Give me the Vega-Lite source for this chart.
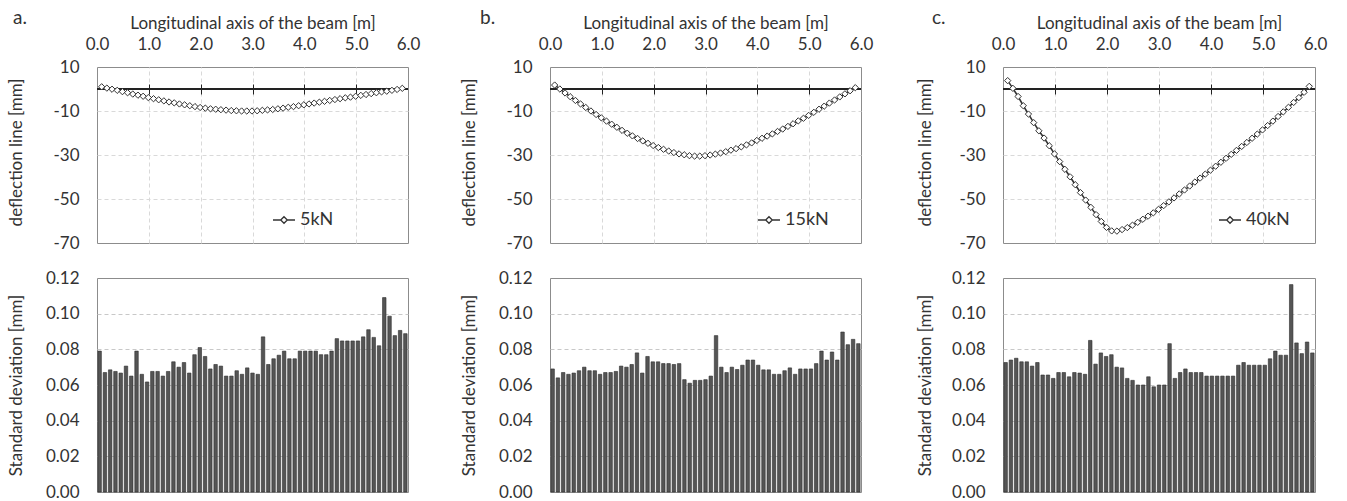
{
  "$schema": "https://vega.github.io/schema/vega-lite/v6.json",
  "autosize": {"type": "pad"},
  "padding": {"left": 6, "top": 8, "right": 0, "bottom": 8},
  "config": {
    "font": "Lato",
    "view": {"stroke": "#8c8c8c", "strokeWidth": 1},
    "axis": {"labelFontSize": 17, "titleFontSize": 17, "titleFontWeight": "normal", "labelColor": "#333", "titleColor": "#333", "labelFont": "Lato", "titleFont": "Lato", "labelFlush": false, "labelOverlap": false},
    "title": {"fontSize": 19, "fontWeight": "normal", "color": "#333", "font": "Lato"},
    "legend": {"labelFont": "Lato"}
  },
  "datasets": {
    "d5": [
      {"x":0.09,"v":1.0,"load":"5kN"},{"x":0.19,"v":0.4,"load":"5kN"},{"x":0.29,"v":-0.1,"load":"5kN"},{"x":0.39,"v":-0.6,"load":"5kN"},{"x":0.49,"v":-1.2,"load":"5kN"},{"x":0.59,"v":-1.7,"load":"5kN"},{"x":0.69,"v":-2.3,"load":"5kN"},{"x":0.79,"v":-2.8,"load":"5kN"},{"x":0.89,"v":-3.3,"load":"5kN"},{"x":0.99,"v":-3.9,"load":"5kN"},
      {"x":1.09,"v":-4.4,"load":"5kN"},{"x":1.19,"v":-4.9,"load":"5kN"},{"x":1.29,"v":-5.4,"load":"5kN"},{"x":1.39,"v":-5.9,"load":"5kN"},{"x":1.49,"v":-6.3,"load":"5kN"},{"x":1.59,"v":-6.8,"load":"5kN"},{"x":1.69,"v":-7.2,"load":"5kN"},{"x":1.79,"v":-7.6,"load":"5kN"},{"x":1.89,"v":-8.0,"load":"5kN"},{"x":1.99,"v":-8.4,"load":"5kN"},
      {"x":2.09,"v":-8.7,"load":"5kN"},{"x":2.19,"v":-9.0,"load":"5kN"},{"x":2.29,"v":-9.2,"load":"5kN"},{"x":2.39,"v":-9.4,"load":"5kN"},{"x":2.49,"v":-9.6,"load":"5kN"},{"x":2.59,"v":-9.8,"load":"5kN"},{"x":2.69,"v":-9.9,"load":"5kN"},{"x":2.79,"v":-10.0,"load":"5kN"},{"x":2.89,"v":-10.0,"load":"5kN"},{"x":2.99,"v":-10.0,"load":"5kN"},
      {"x":3.09,"v":-9.9,"load":"5kN"},{"x":3.19,"v":-9.7,"load":"5kN"},{"x":3.29,"v":-9.5,"load":"5kN"},{"x":3.39,"v":-9.3,"load":"5kN"},{"x":3.49,"v":-9.0,"load":"5kN"},{"x":3.59,"v":-8.7,"load":"5kN"},{"x":3.69,"v":-8.3,"load":"5kN"},{"x":3.79,"v":-8.0,"load":"5kN"},{"x":3.89,"v":-7.6,"load":"5kN"},{"x":3.99,"v":-7.2,"load":"5kN"},
      {"x":4.09,"v":-6.8,"load":"5kN"},{"x":4.19,"v":-6.4,"load":"5kN"},{"x":4.29,"v":-6.0,"load":"5kN"},{"x":4.39,"v":-5.6,"load":"5kN"},{"x":4.49,"v":-5.2,"load":"5kN"},{"x":4.59,"v":-4.8,"load":"5kN"},{"x":4.69,"v":-4.4,"load":"5kN"},{"x":4.79,"v":-4.0,"load":"5kN"},{"x":4.89,"v":-3.7,"load":"5kN"},{"x":4.99,"v":-3.3,"load":"5kN"},
      {"x":5.09,"v":-2.9,"load":"5kN"},{"x":5.19,"v":-2.5,"load":"5kN"},{"x":5.29,"v":-2.1,"load":"5kN"},{"x":5.39,"v":-1.7,"load":"5kN"},{"x":5.49,"v":-1.3,"load":"5kN"},{"x":5.59,"v":-1.0,"load":"5kN"},{"x":5.69,"v":-0.6,"load":"5kN"},{"x":5.79,"v":-0.2,"load":"5kN"},{"x":5.89,"v":0.3,"load":"5kN"}
    ],
    "d15": [
      {"x":0.09,"v":1.8,"load":"15kN"},{"x":0.19,"v":0.0,"load":"15kN"},{"x":0.29,"v":-1.8,"load":"15kN"},{"x":0.39,"v":-3.5,"load":"15kN"},{"x":0.49,"v":-5.2,"load":"15kN"},{"x":0.59,"v":-6.8,"load":"15kN"},{"x":0.69,"v":-8.4,"load":"15kN"},{"x":0.79,"v":-10.0,"load":"15kN"},{"x":0.89,"v":-11.6,"load":"15kN"},{"x":0.99,"v":-13.1,"load":"15kN"},
      {"x":1.09,"v":-14.6,"load":"15kN"},{"x":1.19,"v":-16.0,"load":"15kN"},{"x":1.29,"v":-17.4,"load":"15kN"},{"x":1.39,"v":-18.8,"load":"15kN"},{"x":1.49,"v":-20.1,"load":"15kN"},{"x":1.59,"v":-21.3,"load":"15kN"},{"x":1.69,"v":-22.5,"load":"15kN"},{"x":1.79,"v":-23.6,"load":"15kN"},{"x":1.89,"v":-24.7,"load":"15kN"},{"x":1.99,"v":-25.7,"load":"15kN"},
      {"x":2.09,"v":-26.6,"load":"15kN"},{"x":2.19,"v":-27.4,"load":"15kN"},{"x":2.29,"v":-28.2,"load":"15kN"},{"x":2.39,"v":-28.9,"load":"15kN"},{"x":2.49,"v":-29.5,"load":"15kN"},{"x":2.59,"v":-29.9,"load":"15kN"},{"x":2.69,"v":-30.3,"load":"15kN"},{"x":2.79,"v":-30.5,"load":"15kN"},{"x":2.89,"v":-30.5,"load":"15kN"},{"x":2.99,"v":-30.3,"load":"15kN"},
      {"x":3.09,"v":-30.0,"load":"15kN"},{"x":3.19,"v":-29.6,"load":"15kN"},{"x":3.29,"v":-29.1,"load":"15kN"},{"x":3.39,"v":-28.5,"load":"15kN"},{"x":3.49,"v":-27.8,"load":"15kN"},{"x":3.59,"v":-27.1,"load":"15kN"},{"x":3.69,"v":-26.3,"load":"15kN"},{"x":3.79,"v":-25.4,"load":"15kN"},{"x":3.89,"v":-24.5,"load":"15kN"},{"x":3.99,"v":-23.4,"load":"15kN"},
      {"x":4.09,"v":-22.4,"load":"15kN"},{"x":4.19,"v":-21.4,"load":"15kN"},{"x":4.29,"v":-20.4,"load":"15kN"},{"x":4.39,"v":-19.3,"load":"15kN"},{"x":4.49,"v":-18.2,"load":"15kN"},{"x":4.59,"v":-17.0,"load":"15kN"},{"x":4.69,"v":-15.8,"load":"15kN"},{"x":4.79,"v":-14.5,"load":"15kN"},{"x":4.89,"v":-13.3,"load":"15kN"},{"x":4.99,"v":-12.0,"load":"15kN"},
      {"x":5.09,"v":-10.6,"load":"15kN"},{"x":5.19,"v":-9.2,"load":"15kN"},{"x":5.29,"v":-7.8,"load":"15kN"},{"x":5.39,"v":-6.4,"load":"15kN"},{"x":5.49,"v":-5.0,"load":"15kN"},{"x":5.59,"v":-3.6,"load":"15kN"},{"x":5.69,"v":-2.2,"load":"15kN"},{"x":5.79,"v":-0.8,"load":"15kN"},{"x":5.89,"v":0.6,"load":"15kN"}
    ],
    "d40": [
      {"x":0.09,"v":3.8,"load":"40kN"},{"x":0.19,"v":0.3,"load":"40kN"},{"x":0.29,"v":-3.4,"load":"40kN"},{"x":0.39,"v":-7.6,"load":"40kN"},{"x":0.49,"v":-11.4,"load":"40kN"},{"x":0.59,"v":-15.3,"load":"40kN"},{"x":0.69,"v":-19.0,"load":"40kN"},{"x":0.79,"v":-22.3,"load":"40kN"},{"x":0.89,"v":-25.8,"load":"40kN"},{"x":0.99,"v":-29.5,"load":"40kN"},
      {"x":1.09,"v":-33.0,"load":"40kN"},{"x":1.19,"v":-36.5,"load":"40kN"},{"x":1.29,"v":-39.9,"load":"40kN"},{"x":1.39,"v":-43.5,"load":"40kN"},{"x":1.49,"v":-47.1,"load":"40kN"},{"x":1.59,"v":-50.5,"load":"40kN"},{"x":1.69,"v":-53.8,"load":"40kN"},{"x":1.79,"v":-57.1,"load":"40kN"},{"x":1.89,"v":-60.2,"load":"40kN"},{"x":1.99,"v":-62.9,"load":"40kN"},
      {"x":2.09,"v":-64.5,"load":"40kN"},{"x":2.19,"v":-64.6,"load":"40kN"},{"x":2.29,"v":-63.9,"load":"40kN"},{"x":2.39,"v":-63.0,"load":"40kN"},{"x":2.49,"v":-61.9,"load":"40kN"},{"x":2.59,"v":-60.6,"load":"40kN"},{"x":2.69,"v":-59.2,"load":"40kN"},{"x":2.79,"v":-57.8,"load":"40kN"},{"x":2.89,"v":-56.3,"load":"40kN"},{"x":2.99,"v":-54.7,"load":"40kN"},
      {"x":3.09,"v":-53.0,"load":"40kN"},{"x":3.19,"v":-51.3,"load":"40kN"},{"x":3.29,"v":-49.5,"load":"40kN"},{"x":3.39,"v":-47.7,"load":"40kN"},{"x":3.49,"v":-45.9,"load":"40kN"},{"x":3.59,"v":-44.1,"load":"40kN"},{"x":3.69,"v":-42.3,"load":"40kN"},{"x":3.79,"v":-40.5,"load":"40kN"},{"x":3.89,"v":-38.7,"load":"40kN"},{"x":3.99,"v":-36.9,"load":"40kN"},
      {"x":4.09,"v":-35.1,"load":"40kN"},{"x":4.19,"v":-33.3,"load":"40kN"},{"x":4.29,"v":-31.5,"load":"40kN"},{"x":4.39,"v":-29.7,"load":"40kN"},{"x":4.49,"v":-27.9,"load":"40kN"},{"x":4.59,"v":-26.1,"load":"40kN"},{"x":4.69,"v":-24.3,"load":"40kN"},{"x":4.79,"v":-22.4,"load":"40kN"},{"x":4.89,"v":-20.5,"load":"40kN"},{"x":4.99,"v":-18.6,"load":"40kN"},
      {"x":5.09,"v":-16.6,"load":"40kN"},{"x":5.19,"v":-14.6,"load":"40kN"},{"x":5.29,"v":-12.5,"load":"40kN"},{"x":5.39,"v":-10.4,"load":"40kN"},{"x":5.49,"v":-8.3,"load":"40kN"},{"x":5.59,"v":-6.1,"load":"40kN"},{"x":5.69,"v":-3.9,"load":"40kN"},{"x":5.79,"v":-1.5,"load":"40kN"},{"x":5.89,"v":1.2,"load":"40kN"}
    ],
    "s5": [
      {"pt":1,"s":0.079},{"pt":2,"s":0.067},{"pt":3,"s":0.0685},{"pt":4,"s":0.0676},{"pt":5,"s":0.0667},{"pt":6,"s":0.0706},{"pt":7,"s":0.065},{"pt":8,"s":0.079},{"pt":9,"s":0.066},{"pt":10,"s":0.0617},
      {"pt":11,"s":0.0676},{"pt":12,"s":0.0676},{"pt":13,"s":0.065},{"pt":14,"s":0.0676},{"pt":15,"s":0.073},{"pt":16,"s":0.070},{"pt":17,"s":0.0726},{"pt":18,"s":0.0667},{"pt":19,"s":0.077},{"pt":20,"s":0.081},
      {"pt":21,"s":0.076},{"pt":22,"s":0.069},{"pt":23,"s":0.0715},{"pt":24,"s":0.0706},{"pt":25,"s":0.065},{"pt":26,"s":0.065},{"pt":27,"s":0.068},{"pt":28,"s":0.066},{"pt":29,"s":0.0696},{"pt":30,"s":0.0667},
      {"pt":31,"s":0.066},{"pt":32,"s":0.087},{"pt":33,"s":0.0715},{"pt":34,"s":0.0747},{"pt":35,"s":0.0767},{"pt":36,"s":0.079},{"pt":37,"s":0.0747},{"pt":38,"s":0.0747},{"pt":39,"s":0.079},{"pt":40,"s":0.079},
      {"pt":41,"s":0.079},{"pt":42,"s":0.079},{"pt":43,"s":0.077},{"pt":44,"s":0.077},{"pt":45,"s":0.079},{"pt":46,"s":0.086},{"pt":47,"s":0.0847},{"pt":48,"s":0.0847},{"pt":49,"s":0.0847},{"pt":50,"s":0.0847},
      {"pt":51,"s":0.087},{"pt":52,"s":0.091},{"pt":53,"s":0.0867},{"pt":54,"s":0.082},{"pt":55,"s":0.109},{"pt":56,"s":0.0986},{"pt":57,"s":0.0877},{"pt":58,"s":0.0906},{"pt":59,"s":0.0888}
    ],
    "s15": [
      {"pt":1,"s":0.069},{"pt":2,"s":0.064},{"pt":3,"s":0.067},{"pt":4,"s":0.066},{"pt":5,"s":0.0667},{"pt":6,"s":0.068},{"pt":7,"s":0.070},{"pt":8,"s":0.068},{"pt":9,"s":0.068},{"pt":10,"s":0.066},
      {"pt":11,"s":0.067},{"pt":12,"s":0.067},{"pt":13,"s":0.0676},{"pt":14,"s":0.0706},{"pt":15,"s":0.070},{"pt":16,"s":0.0715},{"pt":17,"s":0.078},{"pt":18,"s":0.0667},{"pt":19,"s":0.076},{"pt":20,"s":0.073},
      {"pt":21,"s":0.073},{"pt":22,"s":0.072},{"pt":23,"s":0.072},{"pt":24,"s":0.0715},{"pt":25,"s":0.072},{"pt":26,"s":0.063},{"pt":27,"s":0.061},{"pt":28,"s":0.0626},{"pt":29,"s":0.0626},{"pt":30,"s":0.063},
      {"pt":31,"s":0.065},{"pt":32,"s":0.0877},{"pt":33,"s":0.070},{"pt":34,"s":0.067},{"pt":35,"s":0.070},{"pt":36,"s":0.0687},{"pt":37,"s":0.0711},{"pt":38,"s":0.074},{"pt":39,"s":0.074},{"pt":40,"s":0.0711},
      {"pt":41,"s":0.0685},{"pt":42,"s":0.0685},{"pt":43,"s":0.066},{"pt":44,"s":0.066},{"pt":45,"s":0.068},{"pt":46,"s":0.0696},{"pt":47,"s":0.066},{"pt":48,"s":0.069},{"pt":49,"s":0.069},{"pt":50,"s":0.069},
      {"pt":51,"s":0.072},{"pt":52,"s":0.079},{"pt":53,"s":0.074},{"pt":54,"s":0.0785},{"pt":55,"s":0.074},{"pt":56,"s":0.0897},{"pt":57,"s":0.0826},{"pt":58,"s":0.0856},{"pt":59,"s":0.0832}
    ],
    "s40": [
      {"pt":1,"s":0.0726},{"pt":2,"s":0.074},{"pt":3,"s":0.075},{"pt":4,"s":0.073},{"pt":5,"s":0.073},{"pt":6,"s":0.0706},{"pt":7,"s":0.0726},{"pt":8,"s":0.0656},{"pt":9,"s":0.0656},{"pt":10,"s":0.0637},
      {"pt":11,"s":0.067},{"pt":12,"s":0.067},{"pt":13,"s":0.0646},{"pt":14,"s":0.067},{"pt":15,"s":0.0667},{"pt":16,"s":0.066},{"pt":17,"s":0.085},{"pt":18,"s":0.0717},{"pt":19,"s":0.078},{"pt":20,"s":0.076},
      {"pt":21,"s":0.077},{"pt":22,"s":0.070},{"pt":23,"s":0.0696},{"pt":24,"s":0.0637},{"pt":25,"s":0.0626},{"pt":26,"s":0.060},{"pt":27,"s":0.060},{"pt":28,"s":0.0646},{"pt":29,"s":0.059},{"pt":30,"s":0.060},
      {"pt":31,"s":0.060},{"pt":32,"s":0.0832},{"pt":33,"s":0.0637},{"pt":34,"s":0.067},{"pt":35,"s":0.069},{"pt":36,"s":0.067},{"pt":37,"s":0.067},{"pt":38,"s":0.067},{"pt":39,"s":0.065},{"pt":40,"s":0.065},
      {"pt":41,"s":0.065},{"pt":42,"s":0.065},{"pt":43,"s":0.065},{"pt":44,"s":0.065},{"pt":45,"s":0.0711},{"pt":46,"s":0.0726},{"pt":47,"s":0.0711},{"pt":48,"s":0.0711},{"pt":49,"s":0.0711},{"pt":50,"s":0.0711},
      {"pt":51,"s":0.0747},{"pt":52,"s":0.079},{"pt":53,"s":0.0767},{"pt":54,"s":0.0767},{"pt":55,"s":0.1163},{"pt":56,"s":0.0836},{"pt":57,"s":0.0776},{"pt":58,"s":0.0841},{"pt":59,"s":0.078}
    ]
  },
  "bounds": "flush",
  "columns": 3,
  "spacing": {"row": 35, "column": 142},
  "resolve": {"scale": {"x": "independent", "y": "independent", "color": "independent"}, "legend": {"color": "independent"}},
  "concat": [
    {
      "width": 311, "height": 176,
      "title": {"text": "a.", "anchor": "start", "frame": "group", "dx": -84, "dy": 18},
      "data": {"name": "d5"},
      "layer": [
        {"mark": {"type": "rule", "color": "#222", "strokeWidth": 1.2},
         "encoding": {"y": {"datum": 0, "type": "quantitative", "scale": {"domain": [-70, 10], "nice": false}, "axis": {"values": [10,-10,-30,-50,-70], "labelExpr": "'' + datum.value", "title": "deflection line [mm]", "domain": false, "ticks": false, "labelPadding": 18, "grid": true, "gridDash": [4,3], "gridColor": "#d9d9d9", "gridOpacity": {"condition": {"test": "datum.value == 10 || datum.value == -70", "value": 0}, "value": 1}, "titleX": -81, "titleY": 85, "titleBaseline": "middle"}}}},
        {"mark": {"type": "line", "strokeWidth": 1.6},
         "encoding": {
           "x": {"field": "x", "type": "quantitative", "scale": {"domain": [0, 6], "nice": false}, "axis": {"orient": "top", "values": [0,1,2,3,4,5,6], "format": ".1f", "title": "Longitudinal axis of the beam [m]", "domain": false, "ticks": false, "labelPadding": 14, "titlePadding": 3, "grid": true, "gridDash": [4,3], "gridColor": "#d9d9d9", "gridOpacity": {"condition": {"test": "datum.value == 0 || datum.value == 6", "value": 0}, "value": 1}}},
           "y": {"field": "v", "type": "quantitative", "axis": {"values": [10,-10,-30,-50,-70], "labelExpr": "'' + datum.value", "title": "deflection line [mm]", "domain": false, "ticks": false, "labelPadding": 18, "grid": true, "gridDash": [4,3], "gridColor": "#d9d9d9", "gridOpacity": {"condition": {"test": "datum.value == 10 || datum.value == -70", "value": 0}, "value": 1}, "titleX": -81, "titleY": 85, "titleBaseline": "middle"}},
           "color": {"field": "load", "type": "nominal", "scale": {"range": ["#333333"]}, "legend": {"orient": "none", "legendX": 175, "legendY": 141, "title": null, "padding": 0, "symbolType": "M-1,0H-0.3M0.3,0H1M-0.3,0L0,-0.3L0.3,0L0,0.3Z", "symbolSize": 484, "symbolStrokeColor": "#333", "symbolFillColor": "white", "symbolStrokeWidth": 1.3, "labelFontSize": 18, "labelOffset": 4, "labelColor": "#333"}}
         }},
        {"mark": {"type": "point", "shape": "diamond", "filled": true, "fill": "white", "stroke": "#333", "strokeWidth": 1, "size": 40, "opacity": 1},
         "encoding": {
           "x": {"field": "x", "type": "quantitative", "axis": {"orient": "bottom", "offset": -159, "values": [1,2,3,4,5], "labels": false, "domain": false, "ticks": true, "tickSize": 10, "tickColor": "#222", "tickWidth": 1, "grid": false, "title": null}},
           "y": {"field": "v", "type": "quantitative"}
         }}
      ]
    },
    {
      "width": 311, "height": 176,
      "title": {"text": "b.", "anchor": "start", "frame": "group", "dx": -70, "dy": 18},
      "data": {"name": "d15"},
      "layer": [
        {"mark": {"type": "rule", "color": "#222", "strokeWidth": 1.2},
         "encoding": {"y": {"datum": 0, "type": "quantitative", "scale": {"domain": [-70, 10], "nice": false}, "axis": {"values": [10,-10,-30,-50,-70], "labelExpr": "'' + datum.value", "title": "deflection line [mm]", "domain": false, "ticks": false, "labelPadding": 18, "grid": true, "gridDash": [4,3], "gridColor": "#d9d9d9", "gridOpacity": {"condition": {"test": "datum.value == 10 || datum.value == -70", "value": 0}, "value": 1}, "titleX": -81, "titleY": 85, "titleBaseline": "middle"}}}},
        {"mark": {"type": "line", "strokeWidth": 1.6},
         "encoding": {
           "x": {"field": "x", "type": "quantitative", "scale": {"domain": [0, 6], "nice": false}, "axis": {"orient": "top", "values": [0,1,2,3,4,5,6], "format": ".1f", "title": "Longitudinal axis of the beam [m]", "domain": false, "ticks": false, "labelPadding": 14, "titlePadding": 3, "grid": true, "gridDash": [4,3], "gridColor": "#d9d9d9", "gridOpacity": {"condition": {"test": "datum.value == 0 || datum.value == 6", "value": 0}, "value": 1}}},
           "y": {"field": "v", "type": "quantitative", "axis": {"values": [10,-10,-30,-50,-70], "labelExpr": "'' + datum.value", "title": "deflection line [mm]", "domain": false, "ticks": false, "labelPadding": 18, "grid": true, "gridDash": [4,3], "gridColor": "#d9d9d9", "gridOpacity": {"condition": {"test": "datum.value == 10 || datum.value == -70", "value": 0}, "value": 1}, "titleX": -81, "titleY": 85, "titleBaseline": "middle"}},
           "color": {"field": "load", "type": "nominal", "scale": {"range": ["#333333"]}, "legend": {"orient": "none", "legendX": 207, "legendY": 141, "title": null, "padding": 0, "symbolType": "M-1,0H-0.3M0.3,0H1M-0.3,0L0,-0.3L0.3,0L0,0.3Z", "symbolSize": 484, "symbolStrokeColor": "#333", "symbolFillColor": "white", "symbolStrokeWidth": 1.3, "labelFontSize": 18, "labelOffset": 4, "labelColor": "#333"}}
         }},
        {"mark": {"type": "point", "shape": "diamond", "filled": true, "fill": "white", "stroke": "#333", "strokeWidth": 1, "size": 40, "opacity": 1},
         "encoding": {
           "x": {"field": "x", "type": "quantitative", "axis": {"orient": "bottom", "offset": -159, "values": [1,2,3,4,5], "labels": false, "domain": false, "ticks": true, "tickSize": 10, "tickColor": "#222", "tickWidth": 1, "grid": false, "title": null}},
           "y": {"field": "v", "type": "quantitative"}
         }}
      ]
    },
    {
      "width": 312, "height": 176,
      "title": {"text": "c.", "anchor": "start", "frame": "group", "dx": -71, "dy": 18},
      "data": {"name": "d40"},
      "layer": [
        {"mark": {"type": "rule", "color": "#222", "strokeWidth": 1.2},
         "encoding": {"y": {"datum": 0, "type": "quantitative", "scale": {"domain": [-70, 10], "nice": false}, "axis": {"values": [10,-10,-30,-50,-70], "labelExpr": "'' + datum.value", "title": "deflection line [mm]", "domain": false, "ticks": false, "labelPadding": 18, "grid": true, "gridDash": [4,3], "gridColor": "#d9d9d9", "gridOpacity": {"condition": {"test": "datum.value == 10 || datum.value == -70", "value": 0}, "value": 1}, "titleX": -78, "titleY": 85, "titleBaseline": "middle"}}}},
        {"mark": {"type": "line", "strokeWidth": 1.6},
         "encoding": {
           "x": {"field": "x", "type": "quantitative", "scale": {"domain": [0, 6], "nice": false}, "axis": {"orient": "top", "values": [0,1,2,3,4,5,6], "format": ".1f", "title": "Longitudinal axis of the beam [m]", "domain": false, "ticks": false, "labelPadding": 14, "titlePadding": 3, "grid": true, "gridDash": [4,3], "gridColor": "#d9d9d9", "gridOpacity": {"condition": {"test": "datum.value == 0 || datum.value == 6", "value": 0}, "value": 1}}},
           "y": {"field": "v", "type": "quantitative", "axis": {"values": [10,-10,-30,-50,-70], "labelExpr": "'' + datum.value", "title": "deflection line [mm]", "domain": false, "ticks": false, "labelPadding": 18, "grid": true, "gridDash": [4,3], "gridColor": "#d9d9d9", "gridOpacity": {"condition": {"test": "datum.value == 10 || datum.value == -70", "value": 0}, "value": 1}, "titleX": -78, "titleY": 85, "titleBaseline": "middle"}},
           "color": {"field": "load", "type": "nominal", "scale": {"range": ["#333333"]}, "legend": {"orient": "none", "legendX": 215, "legendY": 141, "title": null, "padding": 0, "symbolType": "M-1,0H-0.3M0.3,0H1M-0.3,0L0,-0.3L0.3,0L0,0.3Z", "symbolSize": 484, "symbolStrokeColor": "#333", "symbolFillColor": "white", "symbolStrokeWidth": 1.3, "labelFontSize": 18, "labelOffset": 4, "labelColor": "#333"}}
         }},
        {"mark": {"type": "point", "shape": "diamond", "filled": true, "fill": "white", "stroke": "#333", "strokeWidth": 1, "size": 40, "opacity": 1},
         "encoding": {
           "x": {"field": "x", "type": "quantitative", "axis": {"orient": "bottom", "offset": -159, "values": [1,2,3,4,5], "labels": false, "domain": false, "ticks": true, "tickSize": 10, "tickColor": "#222", "tickWidth": 1, "grid": false, "title": null}},
           "y": {"field": "v", "type": "quantitative"}
         }}
      ]
    },
    {
      "width": 311, "height": 214,
      "data": {"name": "s5"},
      "mark": {"type": "bar", "fill": "#555", "stroke": "#2e2e2e", "strokeWidth": 0.6},
      "encoding": {
        "x": {"field": "pt", "type": "ordinal", "axis": null, "scale": {"paddingInner": 0.34, "paddingOuter": 0.17}},
        "y": {"field": "s", "type": "quantitative", "scale": {"domain": [0, 0.12], "nice": false}, "axis": {"values": [0,0.02,0.04,0.06,0.08,0.1,0.12], "format": ".2f", "title": "Standard deviation [mm]", "domain": false, "ticks": false, "labelPadding": 18, "grid": true, "gridDash": [4,3], "gridColor": "#c8c8c8", "gridOpacity": {"condition": {"test": "datum.value == 0 || datum.value == 0.12", "value": 0}, "value": 1}, "titleX": -81, "titleY": 107, "titleBaseline": "middle"}}
      }
    },
    {
      "width": 311, "height": 214,
      "data": {"name": "s15"},
      "mark": {"type": "bar", "fill": "#555", "stroke": "#2e2e2e", "strokeWidth": 0.6},
      "encoding": {
        "x": {"field": "pt", "type": "ordinal", "axis": null, "scale": {"paddingInner": 0.34, "paddingOuter": 0.17}},
        "y": {"field": "s", "type": "quantitative", "scale": {"domain": [0, 0.12], "nice": false}, "axis": {"values": [0,0.02,0.04,0.06,0.08,0.1,0.12], "format": ".2f", "title": "Standard deviation [mm]", "domain": false, "ticks": false, "labelPadding": 18, "grid": true, "gridDash": [4,3], "gridColor": "#c8c8c8", "gridOpacity": {"condition": {"test": "datum.value == 0 || datum.value == 0.12", "value": 0}, "value": 1}, "titleX": -81, "titleY": 107, "titleBaseline": "middle"}}
      }
    },
    {
      "width": 312, "height": 214,
      "data": {"name": "s40"},
      "mark": {"type": "bar", "fill": "#555", "stroke": "#2e2e2e", "strokeWidth": 0.6},
      "encoding": {
        "x": {"field": "pt", "type": "ordinal", "axis": null, "scale": {"paddingInner": 0.34, "paddingOuter": 0.17}},
        "y": {"field": "s", "type": "quantitative", "scale": {"domain": [0, 0.12], "nice": false}, "axis": {"values": [0,0.02,0.04,0.06,0.08,0.1,0.12], "format": ".2f", "title": "Standard deviation [mm]", "domain": false, "ticks": false, "labelPadding": 18, "grid": true, "gridDash": [4,3], "gridColor": "#c8c8c8", "gridOpacity": {"condition": {"test": "datum.value == 0 || datum.value == 0.12", "value": 0}, "value": 1}, "titleX": -78, "titleY": 107, "titleBaseline": "middle"}}
      }
    }
  ]
}
